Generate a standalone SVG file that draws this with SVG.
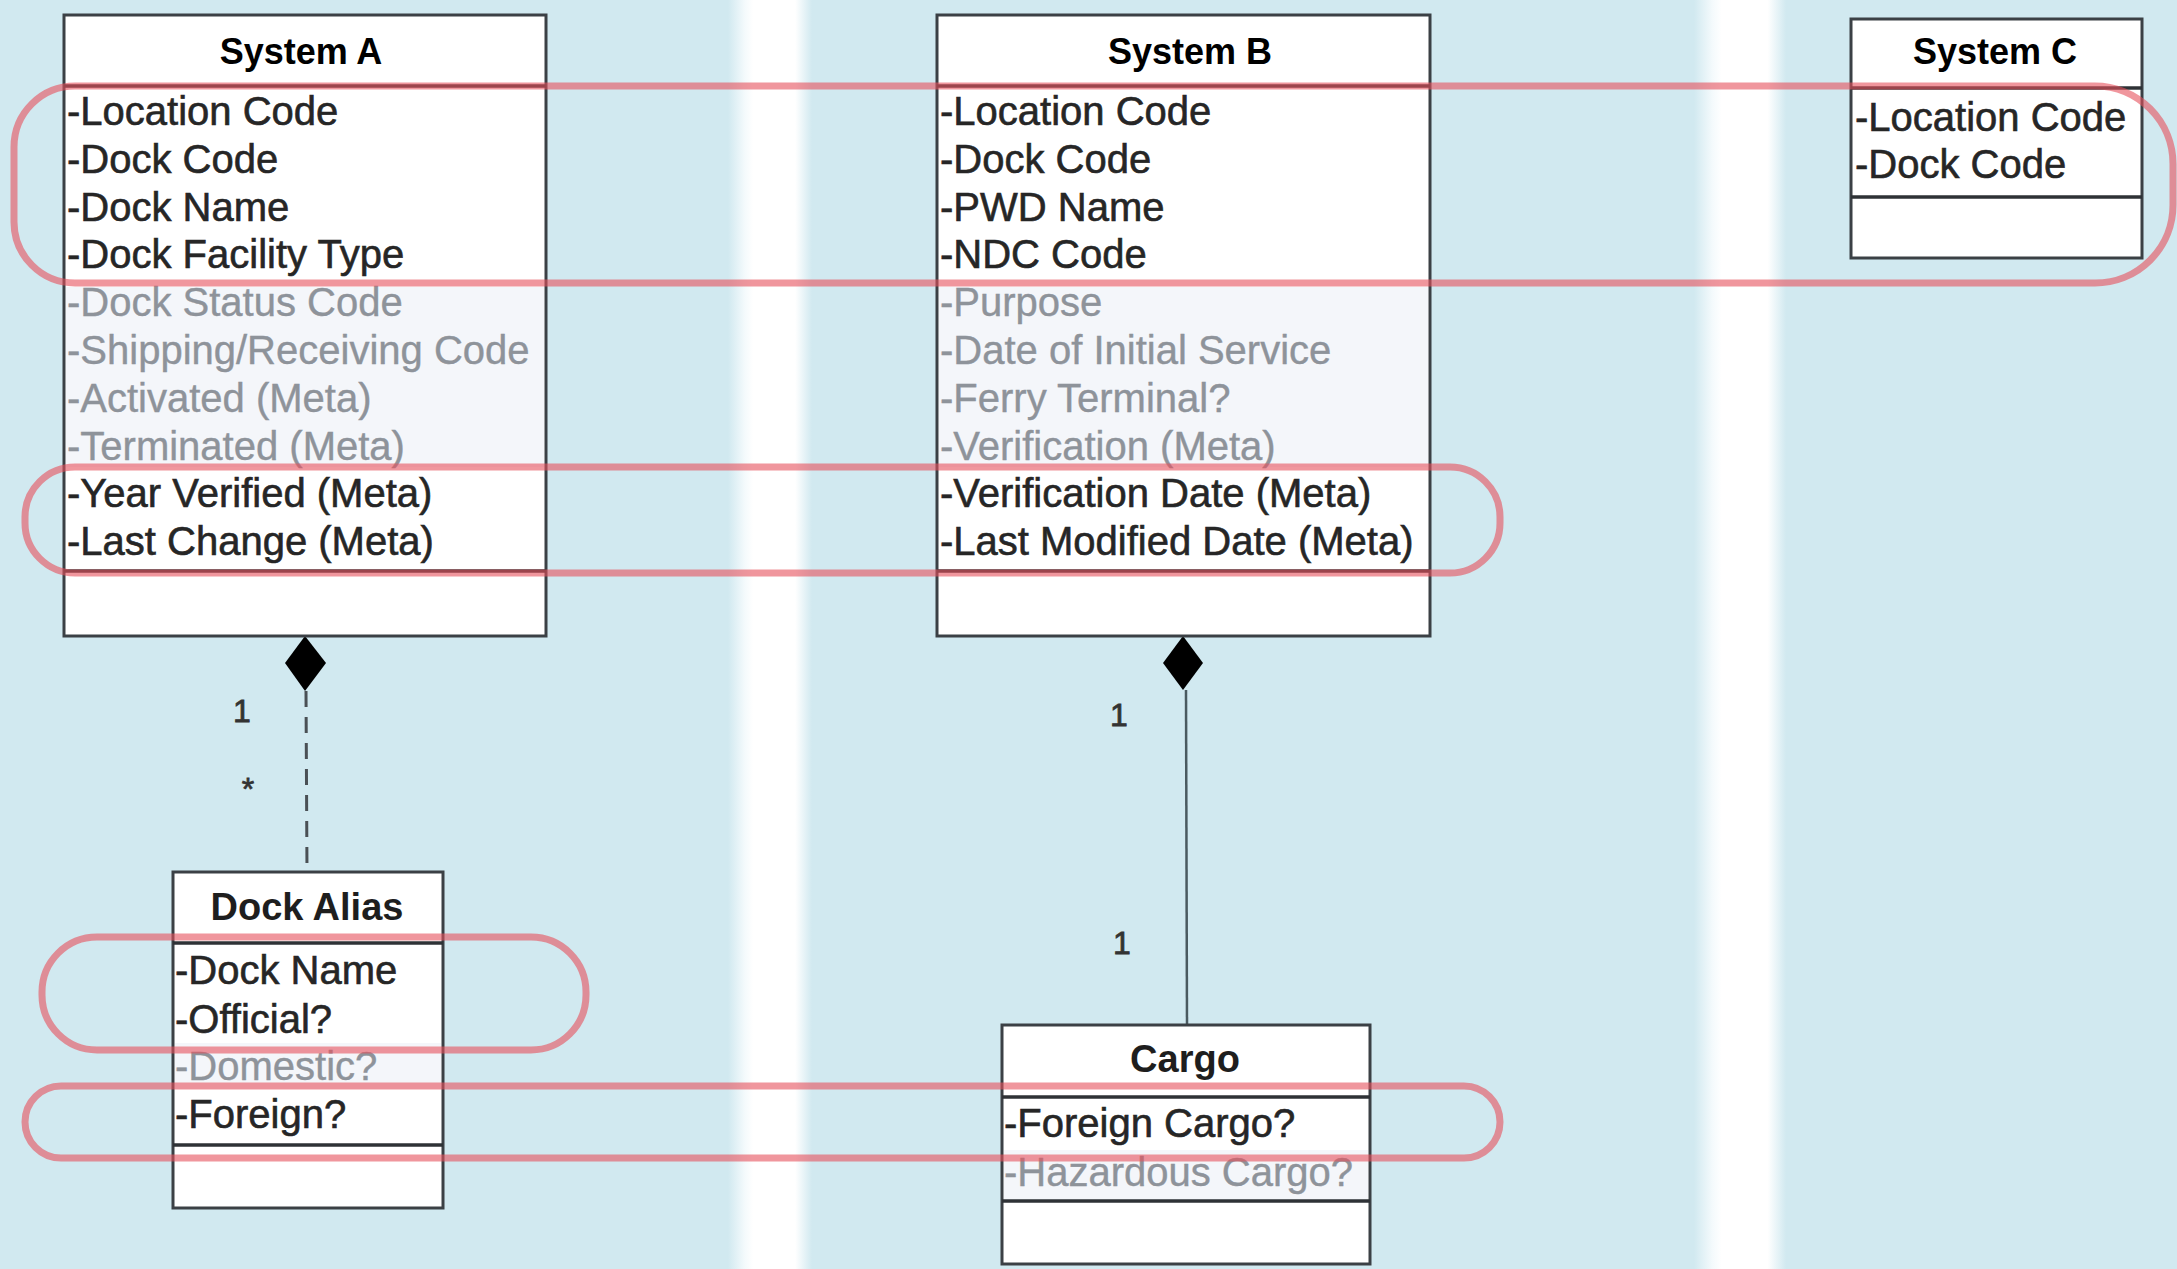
<svg xmlns="http://www.w3.org/2000/svg" width="2177" height="1269" viewBox="0 0 2177 1269">
<defs>
<linearGradient id="stripe" x1="0" y1="0" x2="1" y2="0">
<stop offset="0" stop-color="#d1e9f0"/>
<stop offset="0.2" stop-color="#f4fafc"/>
<stop offset="0.3" stop-color="#ffffff"/>
<stop offset="0.8" stop-color="#ffffff"/>
<stop offset="1" stop-color="#d1e9f0"/>
</linearGradient>
<style>
.box{fill:#ffffff;stroke:#3b4045;stroke-width:3}
.band{fill:#f4f6fa}
.div{stroke:#2e3236;stroke-width:3.5}
.title{font-family:"Liberation Sans",Arial,sans-serif;font-weight:bold;font-size:36px;fill:#000;text-anchor:middle}
.cls{font-family:"Liberation Sans",Arial,sans-serif;font-weight:bold;font-size:38px;fill:#1e1e1e;text-anchor:middle}
.at{font-family:"Liberation Sans",Arial,sans-serif;font-size:40px;fill:#262626;stroke:#262626;stroke-width:0.6}
.gr{font-family:"Liberation Sans",Arial,sans-serif;font-size:40px;fill:#8e939a;stroke:#8e939a;stroke-width:0.4}
.mult{font-family:"Liberation Sans",Arial,sans-serif;font-size:32px;fill:#333;stroke:#333;stroke-width:0.8;text-anchor:middle}
.hl{fill:none;stroke:#e6505c;stroke-opacity:0.6;stroke-width:7}
</style>
</defs>
<rect x="0" y="0" width="2177" height="1269" fill="#d1e9f0"/>
<rect x="728" y="0" width="84" height="1269" fill="url(#stripe)"/>
<rect x="1694" y="0" width="92" height="1269" fill="url(#stripe)"/>

<g id="connectors">
<polygon points="305,636 326,663 305,691 285,663" fill="#000"/>
<line x1="306" y1="691" x2="307" y2="872" stroke="#4a5055" stroke-width="3" stroke-dasharray="16,10"/>
<text class="mult" x="242" y="722">1</text>
<text class="mult" x="248" y="800">*</text>
<polygon points="1183,636 1203,663 1183,690 1163,663" fill="#000"/>
<line x1="1186" y1="690" x2="1187" y2="1025" stroke="#4a5a60" stroke-width="2.5"/>
<text class="mult" x="1119" y="726">1</text>
<text class="mult" x="1122" y="954">1</text>
</g>

<g id="systemA">
<rect class="box" x="64" y="15" width="482" height="621"/>
<rect class="band" x="66" y="287" width="478" height="180"/>
<line class="div" x1="64" y1="86" x2="546" y2="86"/>
<line class="div" x1="64" y1="571" x2="546" y2="571"/>
<text class="title" x="301" y="64">System A</text>
<text class="at" x="67" y="125">-Location Code</text>
<text class="at" x="67" y="173">-Dock Code</text>
<text class="at" x="67" y="221">-Dock Name</text>
<text class="at" x="67" y="268">-Dock Facility Type</text>
<text class="gr" x="67" y="316">-Dock Status Code</text>
<text class="gr" x="67" y="364">-Shipping/Receiving Code</text>
<text class="gr" x="67" y="412">-Activated (Meta)</text>
<text class="gr" x="67" y="460">-Terminated (Meta)</text>
<text class="at" x="67" y="507">-Year Verified (Meta)</text>
<text class="at" x="67" y="555">-Last Change (Meta)</text>
</g>

<g id="systemB">
<rect class="box" x="937" y="15" width="493" height="621"/>
<rect class="band" x="939" y="287" width="489" height="180"/>
<line class="div" x1="937" y1="86" x2="1430" y2="86"/>
<line class="div" x1="937" y1="571" x2="1430" y2="571"/>
<text class="title" x="1190" y="64">System B</text>
<text class="at" x="940" y="125">-Location Code</text>
<text class="at" x="940" y="173">-Dock Code</text>
<text class="at" x="940" y="221">-PWD Name</text>
<text class="at" x="940" y="268">-NDC Code</text>
<text class="gr" x="940" y="316">-Purpose</text>
<text class="gr" x="940" y="364">-Date of Initial Service</text>
<text class="gr" x="940" y="412">-Ferry Terminal?</text>
<text class="gr" x="940" y="460">-Verification (Meta)</text>
<text class="at" x="940" y="507">-Verification Date (Meta)</text>
<text class="at" x="940" y="555">-Last Modified Date (Meta)</text>
</g>

<g id="systemC">
<rect class="box" x="1851" y="19" width="291" height="239"/>
<line class="div" x1="1851" y1="88" x2="2142" y2="88"/>
<line class="div" x1="1851" y1="197" x2="2142" y2="197"/>
<text class="title" x="1995" y="64">System C</text>
<text class="at" x="1855" y="131">-Location Code</text>
<text class="at" x="1855" y="178">-Dock Code</text>
</g>

<g id="dockAlias">
<rect class="box" x="173" y="872" width="270" height="336"/>
<rect class="band" x="175" y="1043" width="266" height="46"/>
<line class="div" x1="173" y1="943" x2="443" y2="943"/>
<line class="div" x1="173" y1="1145" x2="443" y2="1145"/>
<text class="cls" x="307" y="920">Dock Alias</text>
<text class="at" x="175" y="984">-Dock Name</text>
<text class="at" x="175" y="1033">-Official?</text>
<text class="gr" x="175" y="1080">-Domestic?</text>
<text class="at" x="175" y="1128">-Foreign?</text>
</g>

<g id="cargo">
<rect class="box" x="1002" y="1025" width="368" height="239"/>
<rect class="band" x="1004" y="1150" width="364" height="50"/>
<line class="div" x1="1002" y1="1097" x2="1370" y2="1097"/>
<line class="div" x1="1002" y1="1201" x2="1370" y2="1201"/>
<text class="cls" x="1185" y="1072">Cargo</text>
<text class="at" x="1004" y="1137">-Foreign Cargo?</text>
<text class="gr" x="1004" y="1186">-Hazardous Cargo?</text>
</g>

<g id="highlights">
<path class="hl" d="M75,86 H2095 A78,78 0 0 1 2173,164 V205 A78,78 0 0 1 2095,283 H75 A61,61 0 0 1 14,222 V147 A61,61 0 0 1 75,86 Z"/>
<rect class="hl" x="25" y="467" width="1475" height="106" rx="50" ry="50"/>
<rect class="hl" x="42" y="937" width="544" height="113" rx="55" ry="55"/>
<rect class="hl" x="25" y="1086" width="1475" height="72" rx="36" ry="36"/>
</g>
</svg>
